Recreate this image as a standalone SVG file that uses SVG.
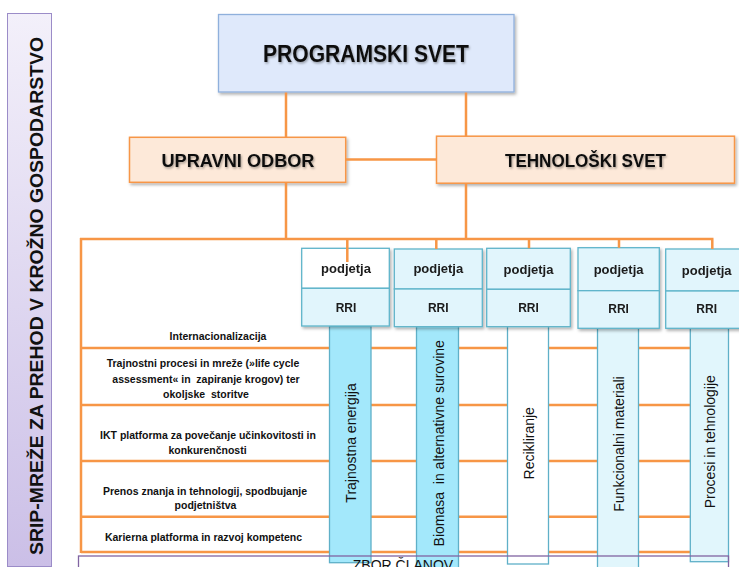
<svg xmlns="http://www.w3.org/2000/svg" width="739" height="567" viewBox="0 0 739 567">
<style>
.or{stroke:#f79646;stroke-width:2.5;fill:none}
.title{font-family:"Liberation Sans",Arial,sans-serif;font-weight:bold;fill:#111;text-anchor:middle}
.peach{fill:#fde9d9;stroke:#f79646;stroke-width:1.5}
.pbox{stroke:#5fb4ca;stroke-width:1.3}
.ptxt{font-family:"Liberation Sans",Arial,sans-serif;font-weight:bold;font-size:13px;fill:#1a1a1a;text-anchor:middle}
.rtxt{font-family:"Liberation Sans",Arial,sans-serif;font-weight:bold;font-size:12px;fill:#1a1a1a;text-anchor:middle}
.row{font-family:"Liberation Sans",Arial,sans-serif;font-weight:bold;font-size:10.5px;fill:#111;text-anchor:middle}
.col{stroke:#5fb0c8;stroke-width:1.3}
.ctxt{font-family:"Liberation Sans",Arial,sans-serif;font-size:14px;fill:#111;text-anchor:middle}
</style>
<defs>
<linearGradient id="lav" x1="0" y1="0" x2="0" y2="1">
<stop offset="0" stop-color="#f3f0fa"/>
<stop offset="1" stop-color="#cbbfe7"/>
</linearGradient>
<filter id="bs" x="-10%" y="-20%" width="130%" height="150%">
<feDropShadow dx="1.5" dy="2" stdDeviation="1.5" flood-color="#000" flood-opacity="0.3"/>
</filter>
<filter id="ts" x="-10%" y="-30%" width="120%" height="170%">
<feDropShadow dx="1" dy="1.5" stdDeviation="1" flood-color="#000" flood-opacity="0.35"/>
</filter>
</defs>
<rect width="739" height="567" fill="#fff"/>

<g id="srip">
<rect x="7.5" y="13.5" width="44" height="553" fill="url(#lav)" stroke="#9b8cc8" stroke-width="1"/>
<text class="title" font-size="18" textLength="518" lengthAdjust="spacingAndGlyphs" transform="translate(42.5,296) rotate(-90)">SRIP-MREŽE ZA PREHOD V KROŽNO GOSPODARSTVO</text>
</g>

<g id="table-grid">
<path class="or" d="M81 238 V553 M81 348 H712 M81 405 H712 M81 461 H712 M81 516.7 H712 M81 552 H712"/>
</g>
<g id="row-1"><text class="row" x="218" y="339.5">Internacionalizacija</text></g>
<g id="row-2">
<text class="row" x="203" y="366.7">Trajnostni procesi in mreže (»life cycle</text>
<text class="row" x="206" y="383.3" xml:space="preserve">assessment« in  zapiranje krogov) ter</text>
<text class="row" x="206" y="398.3" xml:space="preserve">okoljske  storitve</text>
</g>
<g id="row-3">
<text class="row" x="208" y="439">IKT platforma za povečanje učinkovitosti in</text>
<text class="row" x="207.5" y="454">konkurenčnosti</text>
</g>
<g id="row-4">
<text class="row" x="205" y="495">Prenos znanja in tehnologij, spodbujanje</text>
<text class="row" x="205.5" y="509.3">podjetništva</text>
</g>
<g id="row-5"><text class="row" x="203.5" y="540.7">Karierna platforma in razvoj kompetenc</text></g>

<g id="col-1">
<rect class="col" x="329.5" y="326" width="41.5" height="236.7" fill="#a3e8fb"/>
<text class="ctxt" transform="translate(356,443) rotate(-90)">Trajnostna energija</text>
</g>
<g id="col-2">
<rect class="col" x="416.5" y="326" width="42" height="242" fill="#a3e8fb"/>
<text class="ctxt" xml:space="preserve" transform="translate(444,443.3) rotate(-90)">Biomasa  in alternativne surovine</text>
</g>
<g id="col-3">
<rect class="col" x="507.5" y="326" width="41" height="238" fill="#fff"/>
<text class="ctxt" transform="translate(534,443.3) rotate(-90)">Recikliranje</text>
</g>
<g id="col-4">
<rect class="col" x="597.5" y="327" width="41" height="242" fill="#e1f6fc"/>
<text class="ctxt" transform="translate(623.8,444) rotate(-90)">Funkcionalni materiali</text>
</g>
<g id="col-5">
<rect class="col" x="690.3" y="327" width="38.2" height="234.7" fill="#e1f6fc"/>
<text class="ctxt" transform="translate(714.8,441.7) rotate(-90)">Procesi in tehnologije</text>
</g>

<g id="podjetja-1" filter="url(#bs)">
<rect class="pbox" x="301.7" y="248.3" width="87.6" height="40" fill="#fff"/>
<rect class="pbox" x="301.7" y="288.3" width="87.6" height="37.7" fill="#e1f5fc"/>
<text class="ptxt" x="346" y="273.3">podjetja</text>
<text class="rtxt" x="346" y="312">RRI</text>
</g>
<g id="podjetja-2" filter="url(#bs)">
<rect class="pbox" x="394.3" y="249" width="88" height="40" fill="#e1f5fc"/>
<rect class="pbox" x="394.3" y="289" width="88" height="37.7" fill="#e1f5fc"/>
<text class="ptxt" x="438.3" y="273.3">podjetja</text>
<text class="rtxt" x="438.3" y="312">RRI</text>
</g>
<g id="podjetja-3" filter="url(#bs)">
<rect class="pbox" x="486.7" y="248.3" width="83.6" height="41" fill="#e1f5fc"/>
<rect class="pbox" x="486.7" y="289.3" width="83.6" height="37.4" fill="#e1f5fc"/>
<text class="ptxt" x="528.5" y="273.5">podjetja</text>
<text class="rtxt" x="528.5" y="311.7">RRI</text>
</g>
<g id="podjetja-4" filter="url(#bs)">
<rect class="pbox" x="578" y="247.7" width="81.3" height="43" fill="#e1f5fc"/>
<rect class="pbox" x="578" y="290.7" width="81.3" height="37.6" fill="#e1f5fc"/>
<text class="ptxt" x="618.6" y="274">podjetja</text>
<text class="rtxt" x="618.6" y="312.7">RRI</text>
</g>
<g id="podjetja-5" filter="url(#bs)">
<rect class="pbox" x="665.7" y="249" width="82" height="42" fill="#e1f5fc"/>
<rect class="pbox" x="665.7" y="291" width="82" height="37.3" fill="#e1f5fc"/>
<text class="ptxt" x="706.7" y="275">podjetja</text>
<text class="rtxt" x="706.7" y="312.7">RRI</text>
</g>

<g id="programski-svet">
<rect x="218.5" y="14.5" width="295.5" height="77.5" fill="#dfe9fb" stroke="#8fb0dc" stroke-width="1.3" filter="url(#bs)"/>
<text class="title" x="366" y="62.3" font-size="23" textLength="206" lengthAdjust="spacingAndGlyphs" filter="url(#ts)">PROGRAMSKI SVET</text>
</g>
<g id="upravni-odbor">
<rect class="peach" x="129.5" y="137.3" width="216.2" height="45" filter="url(#bs)"/>
<text class="title" x="238" y="166.7" font-size="18" textLength="153" lengthAdjust="spacingAndGlyphs" filter="url(#ts)">UPRAVNI ODBOR</text>
</g>
<g id="tehnoloski-svet">
<rect class="peach" x="436.5" y="136.2" width="298" height="47" filter="url(#bs)"/>
<text class="title" x="585.5" y="167.3" font-size="18" textLength="161" lengthAdjust="spacingAndGlyphs" filter="url(#ts)">TEHNOLOŠKI SVET</text>
</g>

<g id="zbor-clanov">
<rect x="78.5" y="556" width="650" height="20" fill="none" stroke="#8064a2" stroke-width="1.3"/>
<text x="403" y="570" font-family="'Liberation Sans',Arial,sans-serif" font-size="14" fill="#111" text-anchor="middle">ZBOR ČLANOV</text>
</g>

<g id="connectors">
<path class="or" d="M286 92.5 V137.3 M466 92.5 V136.2 M345.7 159.5 H436.5 M286 182.3 V239 M466 183.2 V239 M80 239 H713.5 M347.3 239 V262 M436.3 239 V249 M529 239 V248.3 M619 239 V247.7 M712.3 239 V249"/>
</g>
</svg>
